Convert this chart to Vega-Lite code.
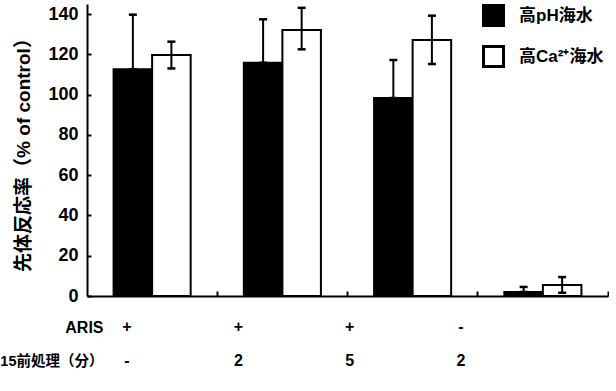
{
  "$schema": "https://vega.github.io/schema/vega-lite/v6.json",
  "padding": {"left": -1, "top": 4, "right": 0, "bottom": 0},
  "background": "white",
  "config": {
    "view": {"stroke": null},
    "font": "Liberation Sans, Noto Sans CJK JP, sans-serif",
    "axis": {
      "labelFont": "Liberation Sans, Noto Sans CJK JP, sans-serif",
      "titleFont": "Liberation Sans, Noto Sans CJK JP, sans-serif",
      "labelFontWeight": "bold",
      "labelFontSize": 16,
      "labelColor": "black",
      "titleColor": "black",
      "domainColor": "black",
      "tickColor": "black",
      "domainWidth": 2,
      "tickWidth": 2,
      "grid": false
    },
    "legend": {
      "labelFont": "Liberation Sans, Noto Sans CJK JP, sans-serif"
    }
  },
  "spacing": 5,
  "vconcat": [
    {
      "width": 521,
      "height": 292,
      "data": {
        "values": [
          {"group": "1", "series": "高pH海水", "value": 112.6, "lo": 112.6, "hi": 139.7},
          {"group": "1", "series": "高Ca²⁺海水", "value": 119.7, "lo": 113.0, "hi": 126.3},
          {"group": "2", "series": "高pH海水", "value": 115.8, "lo": 115.8, "hi": 137.4},
          {"group": "2", "series": "高Ca²⁺海水", "value": 132.1, "lo": 122.5, "hi": 143.1},
          {"group": "3", "series": "高pH海水", "value": 98.3, "lo": 98.3, "hi": 117.2},
          {"group": "3", "series": "高Ca²⁺海水", "value": 127.1, "lo": 115.2, "hi": 139.2},
          {"group": "4", "series": "高pH海水", "value": 2.0, "lo": 2.0, "hi": 4.5},
          {"group": "4", "series": "高Ca²⁺海水", "value": 5.5, "lo": 1.6, "hi": 9.4}
        ]
      },
      "layer": [
        {
          "mark": {"type": "bar", "stroke": "black", "strokeWidth": 2},
          "encoding": {
            "x": {
              "field": "group", "type": "nominal",
              "scale": {"domain": ["1", "2", "3", "4"], "paddingInner": 0, "paddingOuter": 0},
              "axis": {"labels": false, "title": null, "tickSize": -5, "bandPosition": 1}
            },
            "xOffset": {
              "field": "series", "type": "nominal",
              "scale": {"domain": ["高pH海水", "高Ca²⁺海水"], "paddingInner": 0, "paddingOuter": 0.69}
            },
            "y": {
              "field": "value", "type": "quantitative",
              "scale": {"domain": [0, 145], "nice": false},
              "axis": {
                "values": [0, 20, 40, 60, 80, 100, 120, 140],
                "title": "先体反応率（% of control）",
                "titleFontSize": 19,
                "titleFontWeight": "bold",
                "titlePadding": 14,
                "labelFontSize": 18,
                "tickSize": -4,
                "labelPadding": 13
              }
            },
            "fill": {
              "field": "series", "type": "nominal",
              "scale": {"domain": ["高pH海水", "高Ca²⁺海水"], "range": ["black", "white"]},
              "legend": {
                "orient": "none",
                "legendX": 395,
                "legendY": 0,
                "title": null,
                "symbolType": "square",
                "symbolSize": 400,
                "symbolStrokeColor": "black",
                "symbolStrokeWidth": 3,
                "labelFontSize": 17,
                "labelFontWeight": "bold",
                "labelColor": "black",
                "rowPadding": 8,
                "labelOffset": 14,
                "padding": 0
              }
            }
          }
        },
        {
          "mark": {"type": "rule", "color": "black", "strokeWidth": 2},
          "encoding": {
            "x": {"field": "group", "type": "nominal"},
            "xOffset": {"field": "series", "type": "nominal"},
            "y": {"field": "lo", "type": "quantitative"},
            "y2": {"field": "hi"}
          }
        },
        {
          "mark": {"type": "tick", "color": "black", "thickness": 2.5, "size": 8, "opacity": 1},
          "encoding": {
            "x": {"field": "group", "type": "nominal"},
            "xOffset": {"field": "series", "type": "nominal"},
            "y": {"field": "hi", "type": "quantitative"}
          }
        },
        {
          "mark": {"type": "tick", "color": "black", "thickness": 2.5, "size": 8, "opacity": 1},
          "encoding": {
            "x": {"field": "group", "type": "nominal"},
            "xOffset": {"field": "series", "type": "nominal"},
            "y": {"field": "lo", "type": "quantitative"}
          }
        }
      ]
    },
    {
      "width": 521,
      "height": 68,
      "data": {
        "values": [
          {"row": "ARIS", "col": "c1", "label": "+"},
          {"row": "ARIS", "col": "c2", "label": "+"},
          {"row": "ARIS", "col": "c3", "label": "+"},
          {"row": "ARIS", "col": "c4", "label": "-"},
          {"row": "15前処理（分）", "col": "c1", "label": "-"},
          {"row": "15前処理（分）", "col": "c2", "label": "2"},
          {"row": "15前処理（分）", "col": "c3", "label": "5"},
          {"row": "15前処理（分）", "col": "c4", "label": "2"}
        ]
      },
      "mark": {"type": "text", "fontSize": 16, "fontWeight": "bold", "color": "black"},
      "encoding": {
        "x": {
          "field": "col", "type": "nominal",
          "scale": {"type": "point", "domain": ["c1", "c2", "c3", "c4"], "padding": 0.84, "align": 0.214},
          "axis": null
        },
        "y": {
          "field": "row", "type": "nominal",
          "scale": {"domain": ["ARIS", "15前処理（分）"], "paddingInner": 0, "paddingOuter": 0},
          "axis": {
            "title": null, "domain": false, "ticks": false, "labelPadding": -16,
            "labelFontSize": {"condition": {"test": "datum.value == 'ARIS'", "value": 16}, "value": 14.5}
          }
        },
        "text": {"field": "label"}
      }
    }
  ]
}
